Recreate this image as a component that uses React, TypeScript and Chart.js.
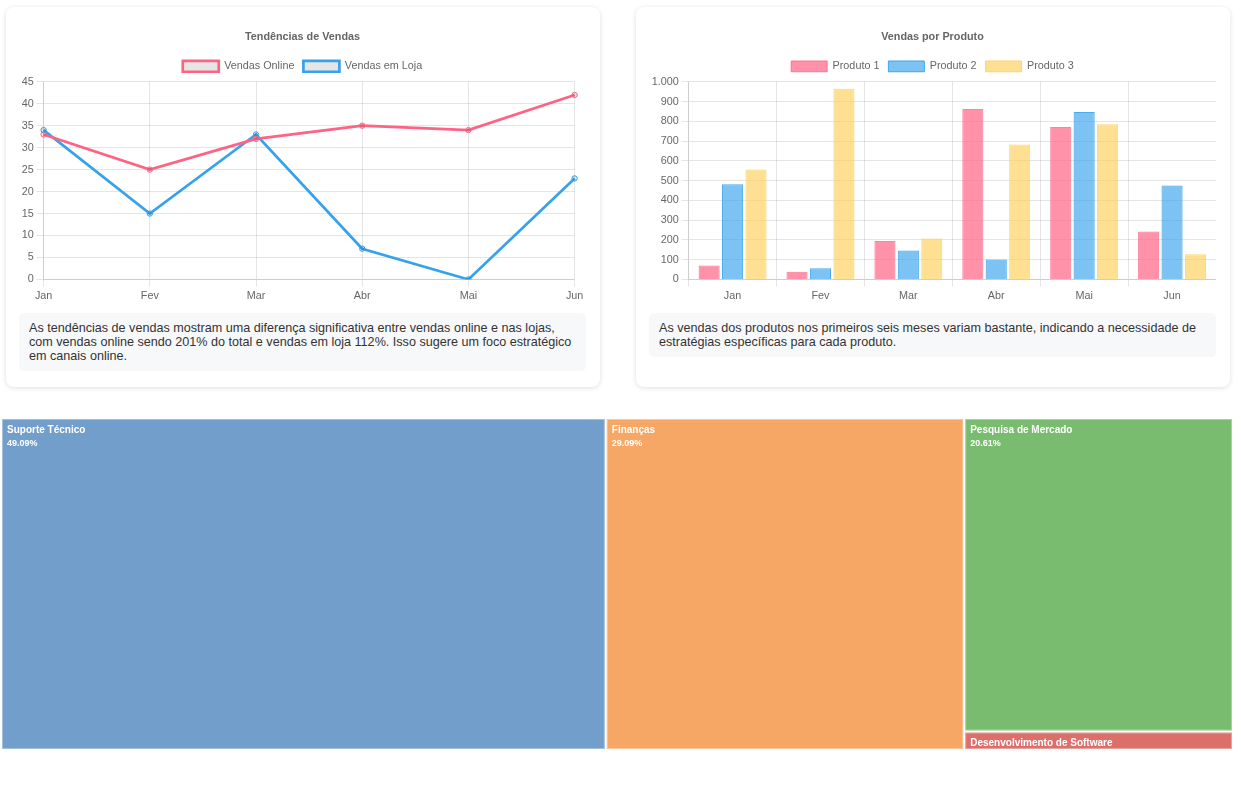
import React, { useEffect, useRef } from 'react';
import { Chart, registerables } from 'chart.js';

Chart.register(...registerables);

const FONT = "'Liberation Sans', Arial, Helvetica, sans-serif";

// ---- Data ----
const months = ['Jan', 'Fev', 'Mar', 'Abr', 'Mai', 'Jun'];
const onlineSales = [33, 25, 32, 35, 34, 42];
const storeSales = [34, 15, 33, 7, 0, 23];

const product1 = [71, 39, 195, 862, 771, 242];
const product2 = [481, 57, 146, 101, 847, 475];
const product3 = [556, 965, 207, 682, 785, 128];

const treeLabels = ['Suporte Técnico', 'Finanças', 'Pesquisa de Mercado', 'Desenvolvimento de Software'];
const treeValues = [81, 48, 34, 2];
const treeColors = ['#729ecb', '#f6a765', '#79bc6f', '#dd6f6b'];

const lineTitle = 'Tendências de Vendas';
const barTitle = 'Vendas por Produto';
const lineText =
  'As tendências de vendas mostram uma diferença significativa entre vendas online e nas lojas, com vendas online sendo 201% do total e vendas em loja 112%. Isso sugere um foco estratégico em canais online.';
const barText =
  'As vendas dos produtos nos primeiros seis meses variam bastante, indicando a necessidade de estratégias específicas para cada produto.';

// ---- Helpers ----
const S = 0.9; // visual scale of the reference
const FS = 12 * S;

function fmtThousands(v: number | string) {
  const n = Math.round(Number(v));
  return String(n).replace(/\B(?=(\d{3})+(?!\d))/g, '.');
}

type Rect = { x: number; y: number; w: number; h: number; i: number };

function squarify(values: number[], x: number, y: number, w: number, h: number): Rect[] {
  const total = values.reduce((a, b) => a + b, 0);
  const areas = values.map((v) => (v / total) * w * h);
  const out: Rect[] = [];
  let idx = 0;
  const worst = (row: number[], side: number) => {
    const s = row.reduce((a, b) => a + b, 0);
    const mx = Math.max(...row);
    const mn = Math.min(...row);
    return Math.max((side * side * mx) / (s * s), (s * s) / (side * side * mn));
  };
  while (idx < areas.length) {
    const side = Math.min(w, h);
    const row: number[] = [areas[idx]];
    const start = idx;
    idx++;
    while (idx < areas.length && worst([...row, areas[idx]], side) <= worst(row, side)) {
      row.push(areas[idx]);
      idx++;
    }
    const s = row.reduce((a, b) => a + b, 0);
    if (w >= h) {
      const cw = s / h;
      let cy = y;
      row.forEach((a, k) => {
        const rh = a / cw;
        out.push({ x, y: cy, w: cw, h: rh, i: start + k });
        cy += rh;
      });
      x += cw;
      w -= cw;
    } else {
      const rh = s / w;
      let cx = x;
      row.forEach((a, k) => {
        const rw = a / rh;
        out.push({ x: cx, y, w: rw, h: rh, i: start + k });
        cx += rw;
      });
      y += rh;
      h -= rh;
    }
  }
  return out;
}

const treemapPlugin = {
  id: 'treemapRects',
  afterDatasetsDraw(chart: any) {
    const xs = chart.scales.x;
    const ys = chart.scales.y;
    const left = xs.getPixelForValue(0);
    const right = xs.getPixelForValue(1);
    const top = ys.getPixelForValue(1);
    const bottom = ys.getPixelForValue(0);
    const rects = squarify(treeValues, left, top, right - left, bottom - top);
    const total = treeValues.reduce((a, b) => a + b, 0);
    const ctx = chart.ctx as CanvasRenderingContext2D;
    ctx.save();
    rects.forEach((r) => {
      const sp = 1;
      const rx = r.x + sp;
      const ry = r.y + sp;
      const rw = r.w - 2 * sp;
      const rh = r.h - 2 * sp;
      ctx.fillStyle = treeColors[r.i];
      ctx.fillRect(rx, ry, rw, rh);
      ctx.strokeStyle = 'rgba(255,255,255,0.35)';
      ctx.lineWidth = 1;
      ctx.strokeRect(rx + 0.5, ry + 0.5, rw - 1, rh - 1);
      ctx.save();
      ctx.beginPath();
      ctx.rect(rx, ry, rw, rh);
      ctx.clip();
      ctx.fillStyle = '#ffffff';
      ctx.textBaseline = 'middle';
      ctx.textAlign = 'left';
      ctx.font = `bold 10px ${FONT}`;
      ctx.fillText(treeLabels[r.i], rx + 5, ry + 11);
      if (rh > 30) {
        ctx.font = `bold 9px ${FONT}`;
        const pct = ((treeValues[r.i] / total) * 100).toFixed(2) + '%';
        ctx.fillText(pct, rx + 5, ry + 25);
      }
      ctx.restore();
    });
    ctx.restore();
  },
};

const baseFont = { family: FONT, size: FS };

const titleOpts = (text: string) => ({
  display: true,
  text,
  color: '#666',
  font: { family: FONT, size: FS, weight: 'bold' as const },
  padding: { top: 10 * S, bottom: 8 },
});

function LineCard() {
  const ref = useRef<HTMLCanvasElement>(null);
  useEffect(() => {
    const chart = new Chart(ref.current!, {
      type: 'line',
      data: {
        labels: months,
        datasets: [
          {
            label: 'Vendas Online',
            data: onlineSales,
            borderColor: 'rgb(255, 99, 132)',
            borderWidth: 3 * S,
            pointRadius: 3 * S,
            pointBorderWidth: 1,
            tension: 0,
          },
          {
            label: 'Vendas em Loja',
            data: storeSales,
            borderColor: 'rgb(54, 162, 235)',
            borderWidth: 3 * S,
            pointRadius: 3 * S,
            pointBorderWidth: 1,
            tension: 0,
          },
        ],
      },
      options: {
        responsive: false,
        animation: false,
        plugins: {
          title: titleOpts(lineTitle),
          legend: {
            labels: { font: baseFont, color: '#666', boxWidth: 40 * S, padding: 10 * S },
          },
          tooltip: { enabled: false },
        },
        scales: {
          x: {
            ticks: { font: baseFont, color: '#666', padding: 3 * S },
            grid: { tickLength: 8 * S },
          },
          y: {
            min: 0,
            max: 45,
            ticks: { stepSize: 5, font: baseFont, color: '#666', padding: 3 * S },
            grid: { tickLength: 8 * S },
          },
        },
      },
    });
    return () => chart.destroy();
  }, []);
  return <canvas ref={ref} width={567} height={283} style={{ display: 'block' }} />;
}

function BarCard() {
  const ref = useRef<HTMLCanvasElement>(null);
  useEffect(() => {
    const chart = new Chart(ref.current!, {
      type: 'bar',
      data: {
        labels: months,
        datasets: [
          {
            label: 'Produto 1',
            data: product1,
            backgroundColor: 'rgba(255, 99, 132, 0.7)',
            borderColor: 'rgba(255, 99, 132, 0.8)',
            borderWidth: 1,
          },
          {
            label: 'Produto 2',
            data: product2,
            backgroundColor: 'rgba(54, 162, 235, 0.65)',
            borderColor: 'rgba(54, 162, 235, 0.9)',
            borderWidth: 1,
          },
          {
            label: 'Produto 3',
            data: product3,
            backgroundColor: 'rgba(255, 206, 86, 0.65)',
            borderColor: 'rgba(255, 206, 86, 0.8)',
            borderWidth: 1,
          },
        ],
      },
      options: {
        responsive: false,
        animation: false,
        plugins: {
          title: titleOpts(barTitle),
          legend: {
            labels: { font: baseFont, color: '#666', boxWidth: 40 * S, padding: 10 * S },
          },
          tooltip: { enabled: false },
        },
        scales: {
          x: {
            ticks: { font: baseFont, color: '#666', padding: 3 * S },
            grid: { tickLength: 8 * S },
          },
          y: {
            min: 0,
            max: 1000,
            ticks: {
              stepSize: 100,
              font: baseFont,
              color: '#666',
              padding: 3 * S,
              callback: (v: any) => fmtThousands(v),
            },
            grid: { tickLength: 8 * S },
          },
        },
      },
    });
    return () => chart.destroy();
  }, []);
  return <canvas ref={ref} width={567} height={283} style={{ display: 'block' }} />;
}

function TreemapChart() {
  const ref = useRef<HTMLCanvasElement>(null);
  useEffect(() => {
    const chart = new Chart(ref.current!, {
      type: 'scatter',
      data: { datasets: [{ data: [] }] },
      options: {
        responsive: false,
        animation: false,
        layout: { padding: 0 },
        plugins: { legend: { display: false }, tooltip: { enabled: false }, title: { display: false } },
        scales: {
          x: { type: 'linear', min: 0, max: 1, display: false },
          y: { type: 'linear', min: 0, max: 1, display: false },
        },
      },
      plugins: [treemapPlugin],
    });
    return () => chart.destroy();
  }, []);
  return <canvas ref={ref} width={1232} height={332} style={{ display: 'block' }} />;
}

const cardStyle: React.CSSProperties = {
  position: 'absolute',
  top: 7,
  width: 594,
  height: 380,
  background: '#fff',
  borderRadius: 8,
  boxShadow: '0 1px 5px rgba(0,0,0,0.13)',
};

const descStyle: React.CSSProperties = {
  position: 'absolute',
  left: 13,
  top: 306,
  width: 567,
  boxSizing: 'border-box',
  padding: '8px 10px',
  background: '#f7f8fa',
  borderRadius: 5,
  fontFamily: FONT,
  fontSize: 12.6,
  lineHeight: '14px',
  color: '#333',
};

export default function App() {
  return (
    <div style={{ position: 'absolute', left: 0, top: 0, width: 1241, height: 788, background: '#fff' }}>
      <div style={{ ...cardStyle, left: 6 }}>
        <div style={{ position: 'absolute', left: 13, top: 15 }}>
          <LineCard />
        </div>
        <div style={descStyle}>{lineText}</div>
      </div>
      <div style={{ ...cardStyle, left: 636 }}>
        <div style={{ position: 'absolute', left: 13, top: 15 }}>
          <BarCard />
        </div>
        <div style={descStyle}>{barText}</div>
      </div>
      <div style={{ position: 'absolute', left: 1, top: 418 }}>
        <TreemapChart />
      </div>
    </div>
  );
}
